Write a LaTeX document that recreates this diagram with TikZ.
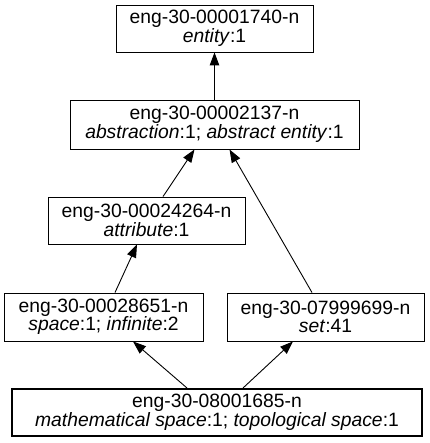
\documentclass[tikz,border=0pt]{standalone}
\usepackage{fontspec}
\setmainfont{Liberation Sans}
\usetikzlibrary{arrows.meta}
\begin{document}
\begin{tikzpicture}[x=1pt,y=-1pt,
  synset/.style={draw=black,line width=0.9pt,inner sep=0pt,align=center,
    font=\fontsize{19.3}{18.5}\selectfont},
  focus/.style={synset,line width=2pt},
  hyper/.style={line width=0.9pt,-{Triangle[length=13pt,width=9.5pt]}}]
  \useasboundingbox (0,0) rectangle (429,443);
  \fill[white] (0,0) rectangle (429,443);
  % synset boxes
  \node[synset,minimum width=197pt,minimum height=47pt] (n1) at (214.5,28.5)
    {eng-30-00001740-n\\\textit{entity}:1};
  \node[synset,minimum width=289pt,minimum height=49pt] (n2) at (214.5,124.5)
    {eng-30-00002137-n\\\textit{abstraction}:1; \textit{abstract entity}:1};
  \node[synset,minimum width=197pt,minimum height=47pt] (n3) at (146.5,220.5)
    {eng-30-00024264-n\\\textit{attribute}:1};
  \node[synset,minimum width=199pt,minimum height=48pt] (n4) at (103.5,317)
    {eng-30-00028651-n\\\textit{space}:1; \textit{infinite}:2};
  \node[synset,minimum width=197pt,minimum height=48pt] (n5) at (325.5,317)
    {eng-30-07999699-n\\\textit{set}:41};
  \node[focus,minimum width=410pt,minimum height=47pt] (n6) at (217,412.5)
    {eng-30-08001685-n\\\textit{mathematical space}:1; \textit{topological space}:1};
  % hypernym links
  \draw[hyper] (n2.north) -- (n1.south);
  \draw[hyper] ([xshift=16.5pt]n3.north) -- ([xshift=-20pt]n2.south);
  \draw[hyper] ([xshift=-13.5pt]n5.north) -- ([xshift=15pt]n2.south);
  \draw[hyper] ([xshift=11.5pt]n4.north) -- ([xshift=-9.5pt]n3.south);
  \draw[hyper] ([xshift=-30pt]n6.north) -- ([xshift=29.5pt]n4.south);
  \draw[hyper] ([xshift=26pt]n6.north) -- ([xshift=-32.5pt]n5.south);
\end{tikzpicture}
\end{document}
